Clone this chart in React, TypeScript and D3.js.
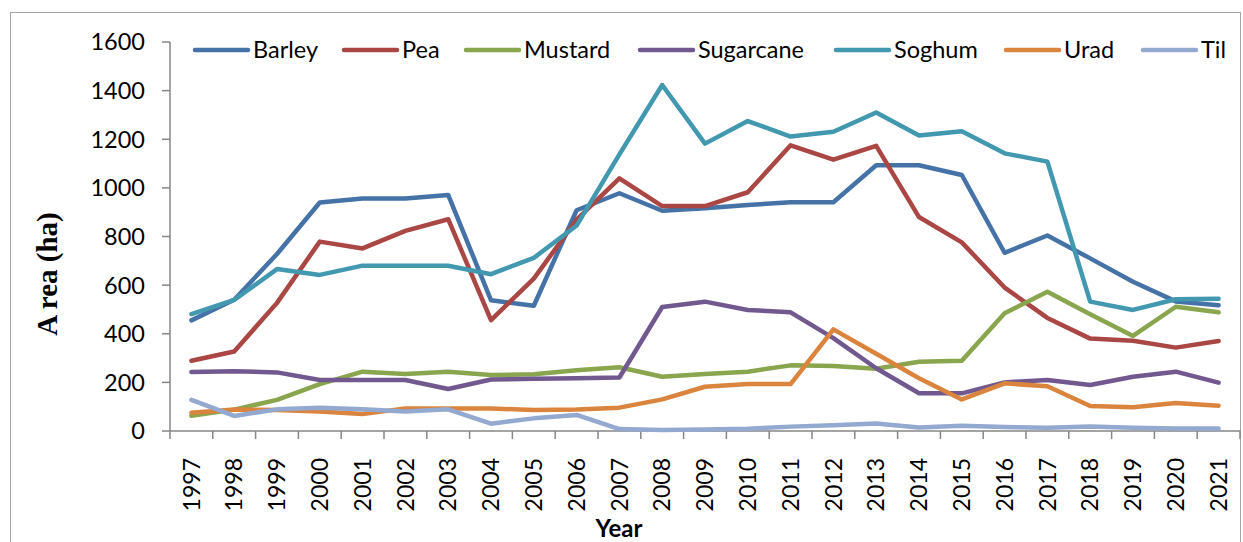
import * as React from "react";
import * as d3 from "d3";

const years = ["1997", "1998", "1999", "2000", "2001", "2002", "2003", "2004", "2005", "2006", "2007", "2008", "2009", "2010", "2011", "2012", "2013", "2014", "2015", "2016", "2017", "2018", "2019", "2020", "2021"];

const barley = [455, 540, 728, 940, 956, 956, 971, 538, 515, 908, 978, 906, 916, 930, 941, 941, 1093, 1093, 1053, 733, 804, 710, 614, 533, 517];
const pea = [289, 327, 527, 779, 751, 823, 871, 456, 627, 869, 1039, 925, 925, 982, 1175, 1116, 1173, 880, 776, 590, 465, 380, 371, 343, 370];
const mustard = [63, 88, 128, 193, 244, 234, 244, 230, 233, 250, 262, 223, 234, 244, 270, 267, 256, 285, 289, 484, 573, 480, 391, 511, 488];
const sugarcane = [243, 246, 241, 210, 210, 210, 173, 212, 215, 217, 220, 510, 532, 498, 488, 382, 258, 155, 155, 200, 210, 189, 223, 244, 199];
const soghum = [481, 539, 666, 642, 680, 680, 680, 645, 712, 845, 1138, 1423, 1182, 1275, 1211, 1231, 1310, 1215, 1233, 1142, 1108, 532, 498, 542, 544];
const urad = [75, 88, 86, 80, 70, 93, 93, 93, 86, 88, 96, 130, 182, 193, 193, 418, 318, 217, 130, 196, 184, 103, 98, 115, 104];
const til = [128, 62, 89, 96, 89, 80, 89, 30, 52, 66, 8, 4, 6, 9, 18, 24, 31, 14, 22, 16, 13, 19, 13, 10, 10];

const yTicks = [0, 200, 400, 600, 800, 1000, 1200, 1400, 1600];

const series = [
  { name: "Barley", values: barley, color: "#4572A7" },
  { name: "Pea", values: pea, color: "#AA4643" },
  { name: "Mustard", values: mustard, color: "#89A54E" },
  { name: "Sugarcane", values: sugarcane, color: "#71588F" },
  { name: "Soghum", values: soghum, color: "#4198AF" },
  { name: "Urad", values: urad, color: "#DB843D" },
  { name: "Til", values: til, color: "#93A9CF" },
];

// legend item left edges (layout only)
const legendX = [195, 344, 466, 640, 836, 1006, 1143];

const font = "Lato, 'Open Sans', sans-serif";
const axisColor = "#868686";

export default function App() {
  const width = 1243;
  const height = 542;
  const left = 170;
  const right = 1240;
  const top = 42;
  const bottom = 431;

  const x = d3.scaleBand().domain(years).range([left, right]);
  const y = d3.scaleLinear().domain([0, 1600]).range([bottom, top]);
  const cx = (yr: string) => (x(yr) as number) + x.bandwidth() / 2;

  const line = d3
    .line<number>()
    .x((_, i) => cx(years[i]))
    .y(d => y(d));

  return (
    <svg
      width={width}
      height={height}
      style={{ position: "fixed", left: 0, top: 0, background: "#fff" }}
    >
      <rect x={10.5} y={12.5} width={1230} height={540} fill="#fff" stroke="#a6a6a6" strokeWidth={1} />

      {/* y axis */}
      <line x1={left} x2={left} y1={top} y2={bottom} stroke={axisColor} strokeWidth={1.5} />
      {yTicks.map(t => (
        <g key={t}>
          <line x1={left - 8} x2={left} y1={y(t)} y2={y(t)} stroke={axisColor} strokeWidth={1.5} />
          <text x={left - 25} y={y(t)} dy="0.36em" textAnchor="end" fontFamily={font} fontSize={23.5} fill="#000">
            {t}
          </text>
        </g>
      ))}

      {/* x axis */}
      <line x1={left} x2={right} y1={bottom} y2={bottom} stroke={axisColor} strokeWidth={1.5} />
      {years.map(yr => (
        <line key={"t" + yr} x1={x(yr)} x2={x(yr)} y1={bottom} y2={bottom + 8} stroke={axisColor} strokeWidth={1.5} />
      ))}
      <line x1={right} x2={right} y1={bottom} y2={bottom + 8} stroke={axisColor} strokeWidth={1.5} />
      {years.map(yr => (
        <text
          key={"l" + yr}
          transform={`translate(${cx(yr)},${bottom + 27}) rotate(-90)`}
          dy="0.36em"
          textAnchor="end"
          fontFamily={font}
          fontSize={23}
          fill="#000"
        >
          {yr}
        </text>
      ))}

      {/* series */}
      {series.map(s => (
        <path
          key={s.name}
          d={line(s.values) || ""}
          fill="none"
          stroke={s.color}
          strokeWidth={4.5}
          strokeLinejoin="round"
          strokeLinecap="round"
        />
      ))}

      {/* legend */}
      {series.map((s, i) => (
        <g key={"lg" + s.name} transform={`translate(${legendX[i]},50)`}>
          <line x1={0} x2={53} y1={0} y2={0} stroke={s.color} strokeWidth={4.5} strokeLinecap="round" />
          <text x={58} y={0} dy="0.36em" fontFamily={font} fontSize={23.5} fill="#000">
            {s.name}
          </text>
        </g>
      ))}

      {/* titles */}
      <text
        transform="translate(57,274) rotate(-90)"
        textAnchor="middle"
        fontFamily="'Liberation Serif', 'Times New Roman', serif"
        fontWeight="bold"
        fontSize={29}
        fill="#000"
      >
        A rea (ha)
      </text>
      <text x={619} y={537} textAnchor="middle" fontFamily={font} fontWeight="bold" fontSize={24} fill="#000">
        Year
      </text>
    </svg>
  );
}
